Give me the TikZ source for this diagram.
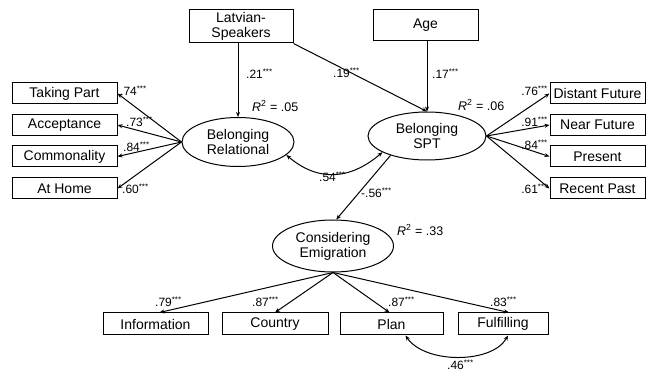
\documentclass[tikz,border=0pt]{standalone}
\usepackage{fontspec}
\setmainfont{Liberation Sans}
\usetikzlibrary{arrows.meta,shapes.geometric,calc}
\newcommand{\sig}[1]{#1\textsuperscript{***}}
\begin{document}
\begin{tikzpicture}[x=1pt,y=-1pt,
  every node/.style={font=\fontsize{14}{15}\selectfont},
  obs/.style={draw,line width=1pt,rectangle,inner sep=0pt,minimum height=21pt},
  lat/.style={draw,line width=1pt,ellipse,inner sep=0pt,align=center},
  path/.style={line width=1pt,-{Stealth[length=5pt,width=4pt]}},
  cov/.style={line width=1pt,{Stealth[length=5pt,width=4pt]}-{Stealth[length=5pt,width=4pt]}},
  coef/.style={font=\fontsize{12}{13}\selectfont,inner sep=0pt},
  rsq/.style={font=\fontsize{12.5}{13}\selectfont,inner sep=0pt,anchor=west}]
\useasboundingbox[fill=white] (0,0) rectangle (649,374);

% exogenous predictors
\node[obs,minimum width=104pt,minimum height=33pt,align=center] (lv) at (241,26.5) {Latvian-\\Speakers};
\node[obs,minimum width=105pt,minimum height=31pt] (age) at (425.5,25.5) {Age};

% latent factors
\node[lat,minimum width=112pt,minimum height=49pt] (rel) at (238,142) {Belonging\\Relational};
\node[lat,minimum width=118pt,minimum height=48pt] (spt) at (427,136) {Belonging\\SPT};
\node[lat,minimum width=121pt,minimum height=52pt] (emi) at (333,246) {Considering\\Emigration};

% indicators of relational belonging
\node[obs,minimum width=105pt] (tp) at (64.5,93.5) {Taking Part};
\node[obs,minimum width=105pt] (ac) at (64.5,125) {Acceptance};
\node[obs,minimum width=105pt] (co) at (64.5,156.5) {Commonality};
\node[obs,minimum width=105pt] (ah) at (64.5,188.5) {At Home};

% indicators of spatio-temporal belonging
\node[obs,minimum width=95pt] (df) at (597.5,93.5) {Distant Future};
\node[obs,minimum width=95pt] (nf) at (597.5,125) {Near Future};
\node[obs,minimum width=95pt] (pr) at (597.5,156.5) {Present};
\node[obs,minimum width=95pt] (rp) at (597.5,188.5) {Recent Past};

% indicators of considering emigration
\node[obs,minimum width=105pt,minimum height=22pt] (inf) at (155.5,324) {Information};
\node[obs,minimum width=106pt,minimum height=22pt] (cou) at (275,324) {Country};
\node[obs,minimum width=103pt,minimum height=22pt] (pla) at (391.5,324) {Plan};
\node[obs,minimum width=90pt,minimum height=22pt] (ful) at (503,324) {Fulfilling};

% structural paths
\draw[path] (lv.south -| rel.north) -- (rel.north);
\draw[path] (lv.south east) -- (spt.north);
\draw[path] (age.south -| spt.north) -- (spt.north);
\draw[path] (spt.208) -- (emi.83);
\draw[cov] (rel.-15) .. controls (318,182) and (350,180) .. (spt.200);

% measurement paths
\foreach \b in {tp,ac,co,ah} \draw[path] (rel.west) -- (\b.east);
\foreach \b in {df,nf,pr,rp} \draw[path] (spt.east) -- (\b.west);
\draw[path] (emi.south) -- ($(inf.north)+(4,0)$);
\draw[path] (emi.south) -- (cou.north);
\draw[path] (emi.south) -- ($(pla.north)+(-2,0)$);
\draw[path] (emi.south) -- ($(ful.north)+(6,0)$);
\draw[cov] ($(pla.south)+(14,0)$) .. controls (425,364) and (492,364) .. ($(ful.south)+(5,0)$);

% coefficients
\node[coef,anchor=west] (c1) at (120,91) {\sig{.74}};
\node[coef,anchor=west] (c2) at (126,122) {\sig{.73}};
\node[coef,anchor=west] (c3) at (123,147) {\sig{.84}};
\node[coef,anchor=west] (c4) at (122,189) {\sig{.60}};
\node[coef,anchor=east] (c5) at (548,91) {\sig{.76}};
\node[coef,anchor=east] (c6) at (548,122) {\sig{.91}};
\node[coef,anchor=east] (c7) at (548,145) {\sig{.84}};
\node[coef,anchor=east] (c8) at (548,189) {\sig{.61}};
\node[coef,anchor=west] (c9) at (246,74) {\sig{.21}};
\node[coef,anchor=west] (c10) at (333,73) {\sig{.19}};
\node[coef,anchor=west] (c11) at (432,74) {\sig{.17}};
\node[coef,anchor=west] (c12) at (319,177) {\sig{.54}};
\node[coef,anchor=west] (c13) at (361,193) {\sig{-.56}};
\node[coef,anchor=west] (c14) at (155,302) {\sig{.79}};
\node[coef,anchor=west] (c15) at (252,302) {\sig{.87}};
\node[coef,anchor=west] (c16) at (388,302) {\sig{.87}};
\node[coef,anchor=west] (c17) at (490,302) {\sig{.83}};
\node[coef,anchor=west] (c18) at (447,365) {\sig{.46}};

% explained variance
\node[rsq] (r1) at (252,106) {\textit{R}\textsuperscript{2} = .05};
\node[rsq] (r2) at (458,105) {\textit{R}\textsuperscript{2} = .06};
\node[rsq] (r3) at (397,230) {\textit{R}\textsuperscript{2} = .33};
\end{tikzpicture}
\end{document}
